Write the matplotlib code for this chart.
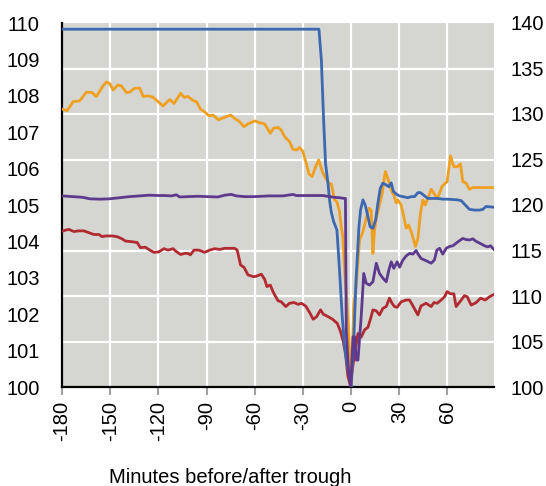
import numpy as np
import matplotlib
matplotlib.use("Agg")
import matplotlib.pyplot as plt

plt.rcParams['font.family'] = ['Liberation Sans', 'DejaVu Sans']

# ---- data (left-axis units) ----
blue_x = [-180, -20.0, -18.5, -17.1, -15.9, -14.4, -13.3, -12.3, -10.9, -8.8, -7.2, -5.5, -4.0, -2.6, -1.0, 0.0,
          1.6, 3.1, 4.9, 5.9, 7.4, 8.8, 10.5, 11.9, 13.6, 15.3, 16.7, 18.2, 19.8, 21.9, 23.5, 25.0, 26.4, 28.1,
          30.2, 32.3, 35.4, 37.4, 39.5, 41.6, 43.2, 45.8, 47.8, 50.9, 54.0, 57.1, 60.3, 63.4, 66.5, 68.6, 71.1,
          73.7, 76.9, 80.0, 82.0, 84.1, 86.2, 88.9]
blue_y = [109.83, 109.83, 108.98, 107.34, 106.14, 105.60, 105.10, 104.80, 104.55, 104.31, 103.21, 101.93, 101.11,
          100.65, 100.28, 100.0,
          101.20, 102.94, 104.40, 104.86, 105.14, 105.00, 104.68, 104.40, 104.36, 104.59, 105.05, 105.46, 105.60,
          105.55, 105.50, 105.61, 105.37, 105.30,
          105.25, 105.23, 105.20, 105.23, 105.23, 105.34, 105.34, 105.25, 105.18, 105.18, 105.18, 105.16, 105.16,
          105.15, 105.14, 105.12, 105.00, 104.88, 104.86, 104.86, 104.88, 104.96, 104.95, 104.94]

orange_x = [-180.4, -176.8, -173.1, -169.0, -164.8, -161.3, -158.6, -154.8, -152.4, -150.3, -148.2, -145.1, -143.0,
            -139.9, -137.9, -134.7, -131.6, -129.5, -126.4, -123.3, -120.2, -117.1, -112.9, -110.2, -106.1, -104.0,
            -101.5, -98.4, -96.3, -93.7, -91.2, -88.5, -86.0, -82.5, -78.7, -75.0, -72.5, -69.4, -66.7, -64.2,
            -60.0, -56.9, -53.8, -50.3, -48.3, -45.5, -43.5, -41.4, -38.3, -36.2, -34.1, -32.0, -30.0, -27.9,
            -26.2, -24.2, -22.1, -20.2, -17.9, -15.8, -13.8, -12.3, -10.3, -8.8, -7.2, -6.1, -5.1, -4.0, -2.0,
            -0.5, 0.3, 1.6, 3.1, 5.3, 7.4, 9.4, 11.1, 12.5, 13.6, 14.6, 15.7, 17.7, 19.4, 20.8, 21.4, 22.9, 25.0,
            26.6, 28.1, 29.1, 31.2, 32.9, 34.3, 35.8, 37.4, 39.1, 40.1, 41.6, 43.2, 44.7, 46.2, 47.8, 49.9, 51.6,
            53.6, 55.1, 56.5, 58.2, 59.8, 61.9, 64.0, 66.1, 68.1, 69.6, 71.7, 73.7, 75.8, 78.9, 83.1, 88.9]
orange_y = [107.64, 107.59, 107.84, 107.86, 108.10, 108.09, 107.98, 108.25, 108.38, 108.34, 108.16, 108.30, 108.27,
            108.09, 108.10, 108.21, 108.21, 107.98, 108.00, 107.96, 107.84, 107.72, 107.90, 107.79, 108.07, 107.96,
            107.98, 107.87, 107.84, 107.63, 107.56, 107.45, 107.47, 107.34, 107.41, 107.47, 107.38, 107.29, 107.15,
            107.23, 107.31, 107.26, 107.23, 106.97, 107.11, 107.13, 107.06, 106.88, 106.74, 106.53, 106.51, 106.58,
            106.47, 106.14, 105.85, 105.78, 106.05, 106.24, 105.92, 105.73, 105.60, 105.58, 105.14, 105.09, 104.82,
            104.40, 104.13, 103.21, 101.93, 100.65, 100.10, 102.21, 102.76, 104.04, 104.27, 104.63, 104.91, 104.86,
            103.67, 104.31, 104.63, 105.00, 105.32, 105.78, 105.92, 105.73, 105.41, 105.27, 105.06, 105.14, 105.00,
            104.66, 104.36, 104.45, 104.27, 104.02, 103.86, 104.08, 104.77, 105.14, 105.00, 105.18, 105.43, 105.32,
            105.18, 105.32, 105.50, 105.58, 105.64, 106.35, 106.05, 106.05, 106.13, 105.64, 105.60, 105.43, 105.48,
            105.48, 105.48, 105.48]

purple_x = [-180.0, -173.1, -166.9, -162.7, -156.5, -150.3, -144.1, -137.9, -131.6, -125.4, -119.8, -116.1, -111.9,
            -108.8, -106.7, -101.5, -95.3, -89.1, -82.9, -78.7, -74.6, -71.5, -66.3, -60.5, -50.7, -42.4, -36.2,
            -34.1, -25.8, -17.5, -13.3, -10.3, -7.2, -4.1, -3.5, -3.0, -1.6, -0.2, 1.2, 2.2, 3.2, 4.3, 6.3, 7.9,
            9.4, 11.5, 13.6, 15.7, 17.7, 19.8, 21.9, 23.5, 25.0, 26.6, 28.7, 30.2, 32.3, 34.3, 36.4, 38.5, 40.5,
            42.0, 43.6, 46.7, 49.9, 51.9, 53.4, 55.1, 57.1, 59.2, 61.3, 63.4, 65.4, 67.5, 69.6, 71.7, 73.7, 75.8,
            77.9, 80.6, 83.1, 85.1, 86.8, 88.9]
purple_y = [105.25, 105.23, 105.21, 105.17, 105.16, 105.17, 105.20, 105.23, 105.25, 105.27, 105.26, 105.26, 105.25,
            105.28, 105.22, 105.23, 105.24, 105.23, 105.22, 105.27, 105.29, 105.25, 105.23, 105.23, 105.25, 105.25,
            105.29, 105.26, 105.26, 105.26, 105.23, 105.21, 105.20, 105.18, 105.18, 101.57, 100.47, 100.00, 101.38,
            101.38, 100.74, 100.74, 101.93, 103.12, 102.85, 102.80, 102.89, 103.40, 103.12, 102.99, 102.89, 103.21,
            103.44, 103.26, 103.44, 103.29, 103.49, 103.60, 103.67, 103.65, 103.75, 103.63, 103.53, 103.47, 103.40,
            103.49, 103.76, 103.81, 103.65, 103.81, 103.86, 103.88, 103.95, 104.02, 104.08, 104.05, 104.04, 104.07,
            104.00, 103.94, 103.88, 103.85, 103.88, 103.78]

red_x = [-180.4, -177.8, -175.7, -172.6, -169.5, -166.4, -163.3, -160.2, -157.0, -155.0, -152.9, -148.8, -145.7,
         -142.6, -140.5, -136.3, -133.2, -131.2, -128.1, -126.0, -122.9, -119.8, -116.5, -114.0, -110.9, -108.8,
         -106.1, -103.6, -101.5, -100.1, -97.8, -94.7, -91.2, -88.1, -85.0, -81.9, -78.7, -75.6, -72.5, -70.9,
         -68.8, -66.7, -64.2, -62.2, -60.7, -58.6, -55.9, -53.8, -52.4, -50.3, -48.3, -45.5, -43.5, -40.7, -38.3,
         -35.5, -33.0, -30.9, -28.2, -25.7, -23.6, -21.5, -19.0, -17.3, -14.2, -11.5, -8.6, -6.5, -4.9, -3.5,
         -2.0, -0.5, 1.5, 4.3, 6.3, 8.4, 10.5, 12.5, 13.6, 15.7, 17.7, 19.8, 21.9, 23.9, 25.5, 27.0, 28.7, 31.2,
         34.3, 36.4, 38.5, 41.6, 43.6, 46.7, 49.9, 51.6, 53.6, 56.1, 58.2, 59.8, 61.9, 64.0, 65.4, 68.1, 70.6,
         72.3, 74.8, 77.9, 80.6, 83.5, 86.2, 88.9]
red_y = [104.27, 104.31, 104.33, 104.27, 104.29, 104.29, 104.24, 104.19, 104.19, 104.13, 104.15, 104.15, 104.13,
         104.07, 104.01, 103.99, 103.97, 103.83, 103.84, 103.78, 103.70, 103.71, 103.80, 103.76, 103.80, 103.72,
         103.64, 103.67, 103.67, 103.63, 103.76, 103.76, 103.70, 103.76, 103.80, 103.78, 103.81, 103.81, 103.81,
         103.76, 103.35, 103.29, 103.08, 103.05, 103.03, 103.05, 103.10, 102.96, 102.76, 102.80, 102.59, 102.37,
         102.34, 102.21, 102.30, 102.32, 102.27, 102.30, 102.22, 102.04, 101.86, 101.93, 102.12, 102.00, 101.93,
         101.86, 101.75, 101.52, 101.25, 100.92, 100.30, 100.05, 100.70, 101.47, 101.37, 101.57, 101.64, 101.93,
         102.12, 102.09, 101.98, 102.16, 102.21, 102.44, 102.30, 102.21, 102.19, 102.34, 102.39, 102.39, 102.23,
         101.98, 102.23, 102.30, 102.21, 102.32, 102.30, 102.39, 102.48, 102.62, 102.56, 102.56, 102.21, 102.36,
         102.51, 102.48, 102.25, 102.32, 102.44, 102.39, 102.48, 102.54]

x_ticks = [-180, -150, -120, -90, -60, -30, 0, 30, 60]
left_ticks = list(range(100, 111))
right_ticks = list(range(100, 141, 5))

# ---- figure ----
fig = plt.figure(figsize=(5.46, 4.86), dpi=100)
ax = fig.add_axes([62/546, 1-387/486, (494-62)/546, (387-23)/486])
ax.set_facecolor('#d5d5d1')

lw = 2.0
ax.plot(red_x, red_y, color='#b02a30', lw=lw, zorder=3)
ax.plot(orange_x, orange_y, color='#f0a020', lw=lw, zorder=4)
ax.plot(blue_x, blue_y, color='#3b68b0', lw=lw, zorder=5)
ax.plot(purple_x, purple_y, color='#5d3a8e', lw=lw, zorder=6)

fs = 14.5
ax.set_xlim(-180, 89)
ax.set_ylim(100, 110)
ax.set_xticks(x_ticks)
ax.set_xticklabels([str(t) for t in x_ticks], rotation=90, fontsize=fs)
ax.set_yticks(left_ticks)
ax.set_yticklabels([str(t) for t in left_ticks], fontsize=fs)
ax.tick_params(axis='y', length=0, pad=16)
ax.tick_params(axis='x', length=6, width=1.5, color='#a0a0a0', pad=4)

# gridlines at right-axis ticks (every 5 on right = 1.25 on left)
ax.set_yticks([100 + (t - 100) / 4 for t in right_ticks], minor=True)
ax.tick_params(axis='y', which='minor', length=0)
ax.grid(True, which='minor', axis='y', color='white', lw=1.6, zorder=1)
ax.grid(True, which='major', axis='x', color='white', lw=1.6, zorder=1)
ax.set_axisbelow(True)

for s in ['top', 'right']:
    ax.spines[s].set_visible(False)
ax.spines['left'].set_linewidth(1.6)
ax.spines['bottom'].set_linewidth(1.6)

ax2 = ax.twinx()
ax2.set_ylim(100, 140)
ax2.set_yticks(right_ticks)
ax2.set_yticklabels([str(t) for t in right_ticks], fontsize=fs)
ax2.tick_params(axis='y', length=0, pad=12)
for s in ['top', 'right', 'left', 'bottom']:
    ax2.spines[s].set_visible(False)

fig.text(230/546, 1-477/486, 'Minutes before/after trough', ha='center', va='center', fontsize=fs)

fig.savefig('out.png', dpi=100)
